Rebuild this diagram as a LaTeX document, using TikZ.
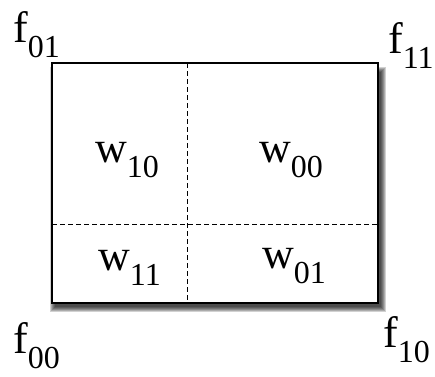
\documentclass[tikz,border=0pt]{standalone}
\usepackage{fontspec}
\setmainfont{Liberation Serif}
\newfontfamily\labelfont{Liberation Serif}

\newcommand{\sublbl}[2]{#1\raisebox{-15pt}{\fontsize{32}{32}\selectfont #2}}

\begin{document}
\begin{tikzpicture}[
    x=1pt, y=-1pt,
    lbl/.style={
        inner sep=0pt,
        anchor=base west,
        font=\labelfont\fontsize{44}{44}\selectfont
    },
    divider/.style={
        dash pattern=on 5pt off 3pt,
        line width=1pt
    }
]
\useasboundingbox (0,0) rectangle (435,376);

% Soft shadow under the cell

\foreach \d in {0,1,2,3,4,5}
    \fill[black, opacity=0.18] (50+\d,67+\d) rectangle (386-\d,312-\d);

% Outer cell

\node[draw, fill=white, minimum width=326pt, minimum height=240pt,
      inner sep=0pt, line width=1.2pt] (cell) at (215,183) {};

% Dividers

\coordinate (vtop) at (187,63);
\coordinate (vbot) at (187,303);
\coordinate (hleft) at (52,224);
\coordinate (hright) at (378,224);

\draw[divider] (vtop)--(vbot);
\draw[divider] (hleft)--(hright);

% Weights

\node[lbl] (w10) at (95,162) {\sublbl{w}{10}};
\node[lbl] (w00) at (259,162) {\sublbl{w}{00}};
\node[lbl] (w11) at (98,270) {\sublbl{w}{11}};
\node[lbl] (w01) at (262,268) {\sublbl{w}{01}};

% Corner values

\node[lbl] (f01) at (13,42) {\sublbl{f}{01}};
\node[lbl] (f11) at (388,53) {\sublbl{f}{11}};
\node[lbl] (f00) at (13,353) {\sublbl{f}{00}};
\node[lbl] (f10) at (383,347) {\sublbl{f}{10}};

\end{tikzpicture}
\end{document}
